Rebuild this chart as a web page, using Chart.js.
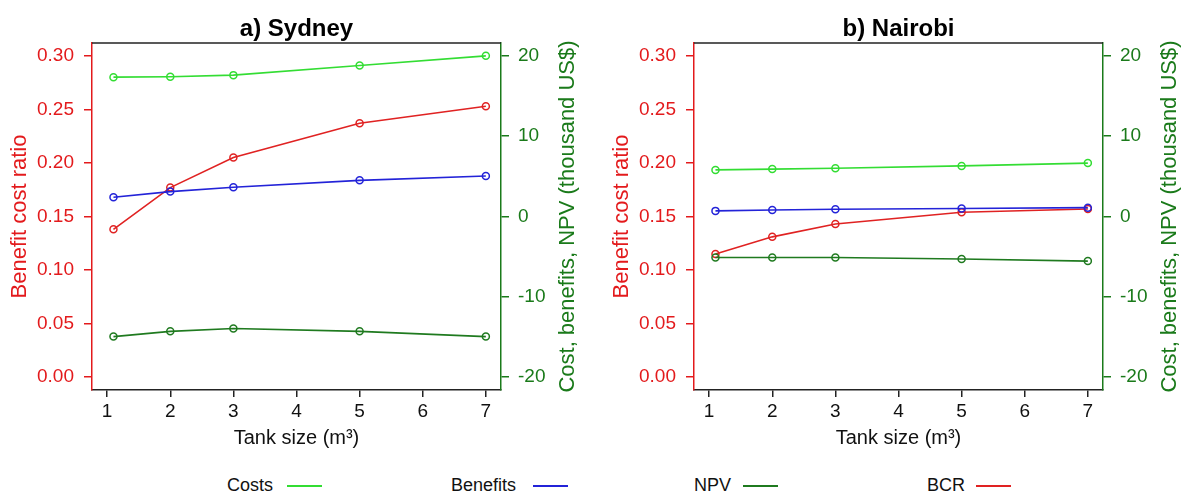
<!DOCTYPE html>
<html>
<head>
<meta charset="utf-8">
<script src="https://cdn.jsdelivr.net/npm/chart.js@4/dist/chart.umd.min.js"></script>
<style>
  html, body { margin: 0; padding: 0; background: #fff; width: 1184px; height: 493px; overflow: hidden;
    font-family: "Liberation Sans", Arial, sans-serif; }
  .panel { position: absolute; top: 0; width: 582px; height: 460px; }
  .legText { position: absolute; font-size: 18px; color: #111; line-height: 20px; white-space: nowrap; }
  .legLine { position: absolute; width: 35px; height: 2px; }
</style>
</head>
<body>
<canvas id="sydney" class="panel" width="582" height="460" style="left:0px"></canvas>
<canvas id="nairobi" class="panel" width="582" height="460" style="left:602px"></canvas>
<div id="legend"></div>
<script>
// ---------- data ----------
const tankSizes = [1.1, 2, 3, 5, 7];
const xTickValues = [1, 2, 3, 4, 5, 6, 7];
const bcrTickValues = [0, 0.05, 0.10, 0.15, 0.20, 0.25, 0.30];
const moneyTickValues = [-20, -10, 0, 10, 20];
const seriesNames = ['Costs', 'Benefits', 'NPV', 'BCR'];
const panelTitles = ['a) Sydney', 'b) Nairobi'];
const xAxisTitle = 'Tank size (m\u00B3)';
const leftAxisTitle = 'Benefit cost ratio';
const rightAxisTitle = 'Cost, benefits, NPV (thousand US$)';

const sydneyCosts    = [17.35, 17.4, 17.6, 18.8, 20.0];
const sydneyBenefits = [2.4, 3.1, 3.65, 4.5, 5.05];
const sydneyNPV      = [-14.95, -14.3, -13.95, -14.3, -14.95];
const sydneyBCR      = [0.138, 0.177, 0.205, 0.237, 0.253];

const nairobiCosts    = [5.8, 5.9, 6.0, 6.3, 6.65];
const nairobiBenefits = [0.7, 0.8, 0.9, 1.0, 1.1];
const nairobiNPV      = [-5.1, -5.1, -5.1, -5.3, -5.55];
const nairobiBCR      = [0.115, 0.131, 0.143, 0.154, 0.157];

// ---------- styles ----------
const FONT = '"Liberation Sans", Arial, sans-serif';
const colCosts = '#33dd33';
const colBenefits = '#2323d8';
const colNPV = '#1f7a1f';
const colBCR = '#e02222';
const colLeftAxis = '#e31a1c';
const colRightAxis = '#1a7a1a';
const seriesColors = [colCosts, colBenefits, colNPV, colBCR];

const panelDecorPlugin = {
  id: 'panelDecor',
  afterDraw(chart, args, opts) {
    const { ctx, chartArea } = chart;
    ctx.save();
    // top edge of the plot box
    ctx.strokeStyle = '#222';
    ctx.lineWidth = 1.5;
    ctx.beginPath();
    ctx.moveTo(chartArea.left, chartArea.top);
    ctx.lineTo(chartArea.right, chartArea.top);
    ctx.stroke();
    // panel title
    ctx.font = 'bold 24px ' + FONT;
    ctx.fillStyle = '#000';
    ctx.textAlign = 'center';
    ctx.textBaseline = 'middle';
    ctx.fillText(opts.text, (chartArea.left + chartArea.right) / 2, 29);
    // right axis title, reading bottom-to-top
    ctx.translate(chart.width - 14, (chartArea.top + chartArea.bottom) / 2);
    ctx.rotate(-Math.PI / 2);
    ctx.font = '22px ' + FONT;
    ctx.fillStyle = colRightAxis;
    ctx.fillText(opts.rightTitle, 0, 0);
    ctx.restore();
  }
};

function series(label, values, color, axis) {
  return {
    label,
    data: tankSizes.map((x, i) => ({ x, y: values[i] })),
    yAxisID: axis,
    borderColor: color,
    backgroundColor: 'rgba(0,0,0,0)',
    borderWidth: 1.6,
    pointRadius: 3.5,
    pointBorderWidth: 1.5,
    pointBackgroundColor: 'rgba(0,0,0,0)',
    pointBorderColor: color,
    tension: 0,
    fill: false
  };
}

function makeChart(id, title, costs, benefits, npv, bcr) {
  return new Chart(document.getElementById(id), {
    type: 'line',
    data: {
      datasets: [
        series(seriesNames[2], npv, colNPV, 'yR'),
        series(seriesNames[0], costs, colCosts, 'yR'),
        series(seriesNames[1], benefits, colBenefits, 'yR'),
        series(seriesNames[3], bcr, colBCR, 'yL')
      ]
    },
    plugins: [panelDecorPlugin],
    options: {
      responsive: false,
      animation: false,
      devicePixelRatio: 1,
      layout: { padding: { top: 43, left: 0, right: 0, bottom: 0 } },
      plugins: {
        legend: { display: false },
        tooltip: { enabled: false },
        title: { display: false },
        panelDecor: { text: title, rightTitle: rightAxisTitle }
      },
      scales: {
        x: {
          type: 'linear', position: 'bottom', min: 0.76, max: 7.24,
          afterBuildTicks: s => { s.ticks = xTickValues.map(v => ({ value: v })); },
          afterFit: s => { s.height = 70; },
          ticks: { color: '#111', font: { size: 19, family: FONT }, padding: 3,
                   autoSkip: false, maxRotation: 0, callback: v => String(v) },
          grid: { drawOnChartArea: false, drawTicks: true, tickLength: 7, color: '#222', lineWidth: 1.5 },
          border: { display: true, color: '#222', width: 1.5 },
          title: { display: true, text: xAxisTitle, color: '#111', font: { size: 20, family: FONT },
                   padding: { top: 0, bottom: 10 } }
        },
        yL: {
          type: 'linear', position: 'left', min: -0.012, max: 0.312,
          afterBuildTicks: s => { s.ticks = bcrTickValues.map(v => ({ value: v })); },
          afterFit: s => { s.width = 92; },
          ticks: { color: colLeftAxis, font: { size: 19, family: FONT }, padding: 10,
                   callback: v => Number(v).toFixed(2) },
          grid: { drawOnChartArea: false, drawTicks: true, tickLength: 8, color: colLeftAxis, lineWidth: 1.5 },
          border: { display: true, color: colLeftAxis, width: 1.5 },
          title: { display: true, text: leftAxisTitle, color: colLeftAxis, font: { size: 22, family: FONT },
                   padding: { top: 7, bottom: 0 } }
        },
        yR: {
          type: 'linear', position: 'right', min: -21.6, max: 21.6,
          afterBuildTicks: s => { s.ticks = moneyTickValues.map(v => ({ value: v })); },
          afterFit: s => { s.width = 81; },
          ticks: { color: colRightAxis, font: { size: 19, family: FONT }, padding: 9,
                   callback: v => String(v) },
          grid: { drawOnChartArea: false, drawTicks: true, tickLength: 8, color: colRightAxis, lineWidth: 1.5 },
          border: { display: true, color: colRightAxis, width: 1.5 },
          title: { display: false }
        }
      }
    }
  });
}

makeChart('sydney', panelTitles[0], sydneyCosts, sydneyBenefits, sydneyNPV, sydneyBCR);
makeChart('nairobi', panelTitles[1], nairobiCosts, nairobiBenefits, nairobiNPV, nairobiBCR);

// ---------- shared legend ----------
const legendTextX = [227, 451, 694, 927];
const legendLineX = [287, 533, 743, 976];
const legendY = 485;
const legend = document.getElementById('legend');
seriesNames.forEach((name, i) => {
  const t = document.createElement('div');
  t.className = 'legText';
  t.textContent = name;
  t.style.left = legendTextX[i] + 'px';
  t.style.top = (legendY - 10) + 'px';
  legend.appendChild(t);
  const l = document.createElement('div');
  l.className = 'legLine';
  l.style.left = legendLineX[i] + 'px';
  l.style.top = legendY + 'px';
  l.style.backgroundColor = seriesColors[i];
  legend.appendChild(l);
});
</script>
</body>
</html>
